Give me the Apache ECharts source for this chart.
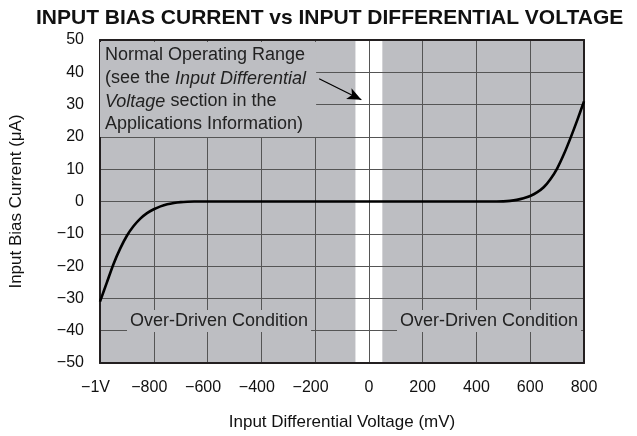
<!DOCTYPE html>
<html>
<head>
<meta charset="utf-8">
<script src="https://cdn.jsdelivr.net/npm/echarts@6/dist/echarts.min.js"></script>
<style>
  html, body { margin: 0; padding: 0; background: #fff; }
  #chart { width: 637px; height: 436px; }
</style>
</head>
<body>
<div id="chart"></div>
<script>
// curve: mV, uA
const voltage = [-1000, -975, -950, -925, -900, -875, -850, -825, -800, -775, -750, -725, -700, -675, -650,
  -400, 0, 400, 475, 500, 525, 550, 575, 600, 625, 650, 675, 700, 725, 750, 775, 800];
const current = [-31, -25.2, -19.4, -14.6, -10.6, -7.6, -5.3, -3.6, -2.4, -1.5, -0.85, -0.45, -0.2, -0.07, 0,
  0, 0, 0, 0, 0.05, 0.2, 0.5, 1.0, 1.7, 2.8, 4.4, 6.9, 10.2, 14.6, 19.7, 25.2, 31];
const normalRange = [-50, 50];
const arrowFrom = [-185, 38];
const arrowTo = [-28, 31.5];

const FONT = "'Liberation Sans', Arial, Helvetica, sans-serif";
const GRAY = "#bdbec2";
const BORDER = "#231f20";

const chart = echarts.init(document.getElementById("chart"));

// negative labels: digits sit on the tick, the minus hangs to the left
function xLabel(v) {
  if (v === -1000) return "{neg|\u22121V}";
  return v < 0 ? "{neg|\u2212" + Math.abs(v) + "}" : String(v);
}
function yLabel(v) {
  return v < 0 ? "\u2212" + Math.abs(v) : String(v);
}

const borderAxis = {
  axisLine: { show: true, onZero: false, lineStyle: { color: BORDER, width: 2 } },
  axisTick: { show: false },
  axisLabel: { show: false },
  splitLine: { show: false },
  z: 2,
};

const option = {
  animation: false,
  title: {
    text: "INPUT BIAS CURRENT vs INPUT DIFFERENTIAL VOLTAGE",
    left: 31,
    top: 3,
    textStyle: { fontFamily: FONT, fontSize: 21, fontWeight: "bold", color: "#111" },
  },
  grid: {
    left: 98, right: 53, top: 40, bottom: 66,
    show: true, backgroundColor: GRAY, borderWidth: 0,
  },
  xAxis: [
    {
      type: "value", min: -1000, max: 800, interval: 200, z: 2,
      name: "Input Differential Voltage (mV)",
      nameLocation: "middle", nameGap: 51,
      nameTextStyle: { fontFamily: FONT, fontSize: 17, color: "#111" },
      axisLine: { show: true, onZero: false, lineStyle: { color: BORDER, width: 2 } },
      axisTick: { show: false },
      axisLabel: {
        margin: 17, fontFamily: FONT, fontSize: 16, color: "#111", formatter: xLabel,
        rich: { neg: { fontFamily: FONT, fontSize: 16, color: "#111", padding: [0, 9, 0, 0] } },
      },
      splitLine: { show: true, lineStyle: { color: "#555", width: 1 } },
    },
    Object.assign({ type: "value", min: -1000, max: 800, position: "top" }, borderAxis),
  ],
  yAxis: [
    {
      type: "value", min: -50, max: 50, interval: 10, z: 2,
      name: "Input Bias Current (\u03bcA)",
      nameLocation: "middle", nameGap: 75,
      nameTextStyle: { fontFamily: FONT, fontSize: 17, color: "#111" },
      axisLine: { show: true, onZero: false, lineStyle: { color: BORDER, width: 2 } },
      axisTick: { show: false },
      axisLabel: { margin: 16, fontFamily: FONT, fontSize: 16, color: "#111", formatter: yLabel },
      splitLine: { show: true, lineStyle: { color: "#555", width: 1 } },
    },
    Object.assign({ type: "value", min: -50, max: 50, position: "right" }, borderAxis),
  ],
  series: [
    {
      // white band = normal operating range
      type: "line", data: [], z: 1, silent: true,
      markArea: {
        silent: true, z: 1,
        itemStyle: { color: "#fff" },
        data: [[{ xAxis: normalRange[0] }, { xAxis: normalRange[1] }]],
      },
    },
    {
      type: "line", z: 3,
      data: voltage.map((v, i) => [v, current[i]]),
      smooth: 0.3, showSymbol: false,
      lineStyle: { color: "#000", width: 2.6 },
      markLine: {
        silent: true, symbol: ["none", "arrow"], symbolSize: [9, 14],
        lineStyle: { color: "#000", width: 1.3, type: "solid" },
        label: { show: false },
        data: [[{ coord: arrowFrom }, { coord: arrowTo }]],
      },
    },
  ],
  graphic: [
    {
      type: "text", left: 100, top: 42, z: 4,
      style: {
        text: "{n|Normal Operating Range}\n{n|(see the }{i|Input Differential}\n{i|Voltage}{n| section in the}\n{n|Applications Information)}",
        backgroundColor: GRAY, padding: [2, 10, 1, 5],
        rich: {
          n: { fontFamily: FONT, fontSize: 18, lineHeight: 23, fill: "#222" },
          i: { fontFamily: FONT, fontSize: 18, lineHeight: 23, fontStyle: "italic", fill: "#222" },
        },
      },
    },
    {
      type: "text", left: 127, top: 310, z: 4,
      style: {
        text: "Over-Driven Condition", backgroundColor: GRAY, padding: [2, 3],
        font: "18px " + FONT, fill: "#222",
      },
    },
    {
      type: "text", left: 397, top: 310, z: 4,
      style: {
        text: "Over-Driven Condition", backgroundColor: GRAY, padding: [2, 3],
        font: "18px " + FONT, fill: "#222",
      },
    },
  ],
};

chart.setOption(option);
</script>
</body>
</html>
